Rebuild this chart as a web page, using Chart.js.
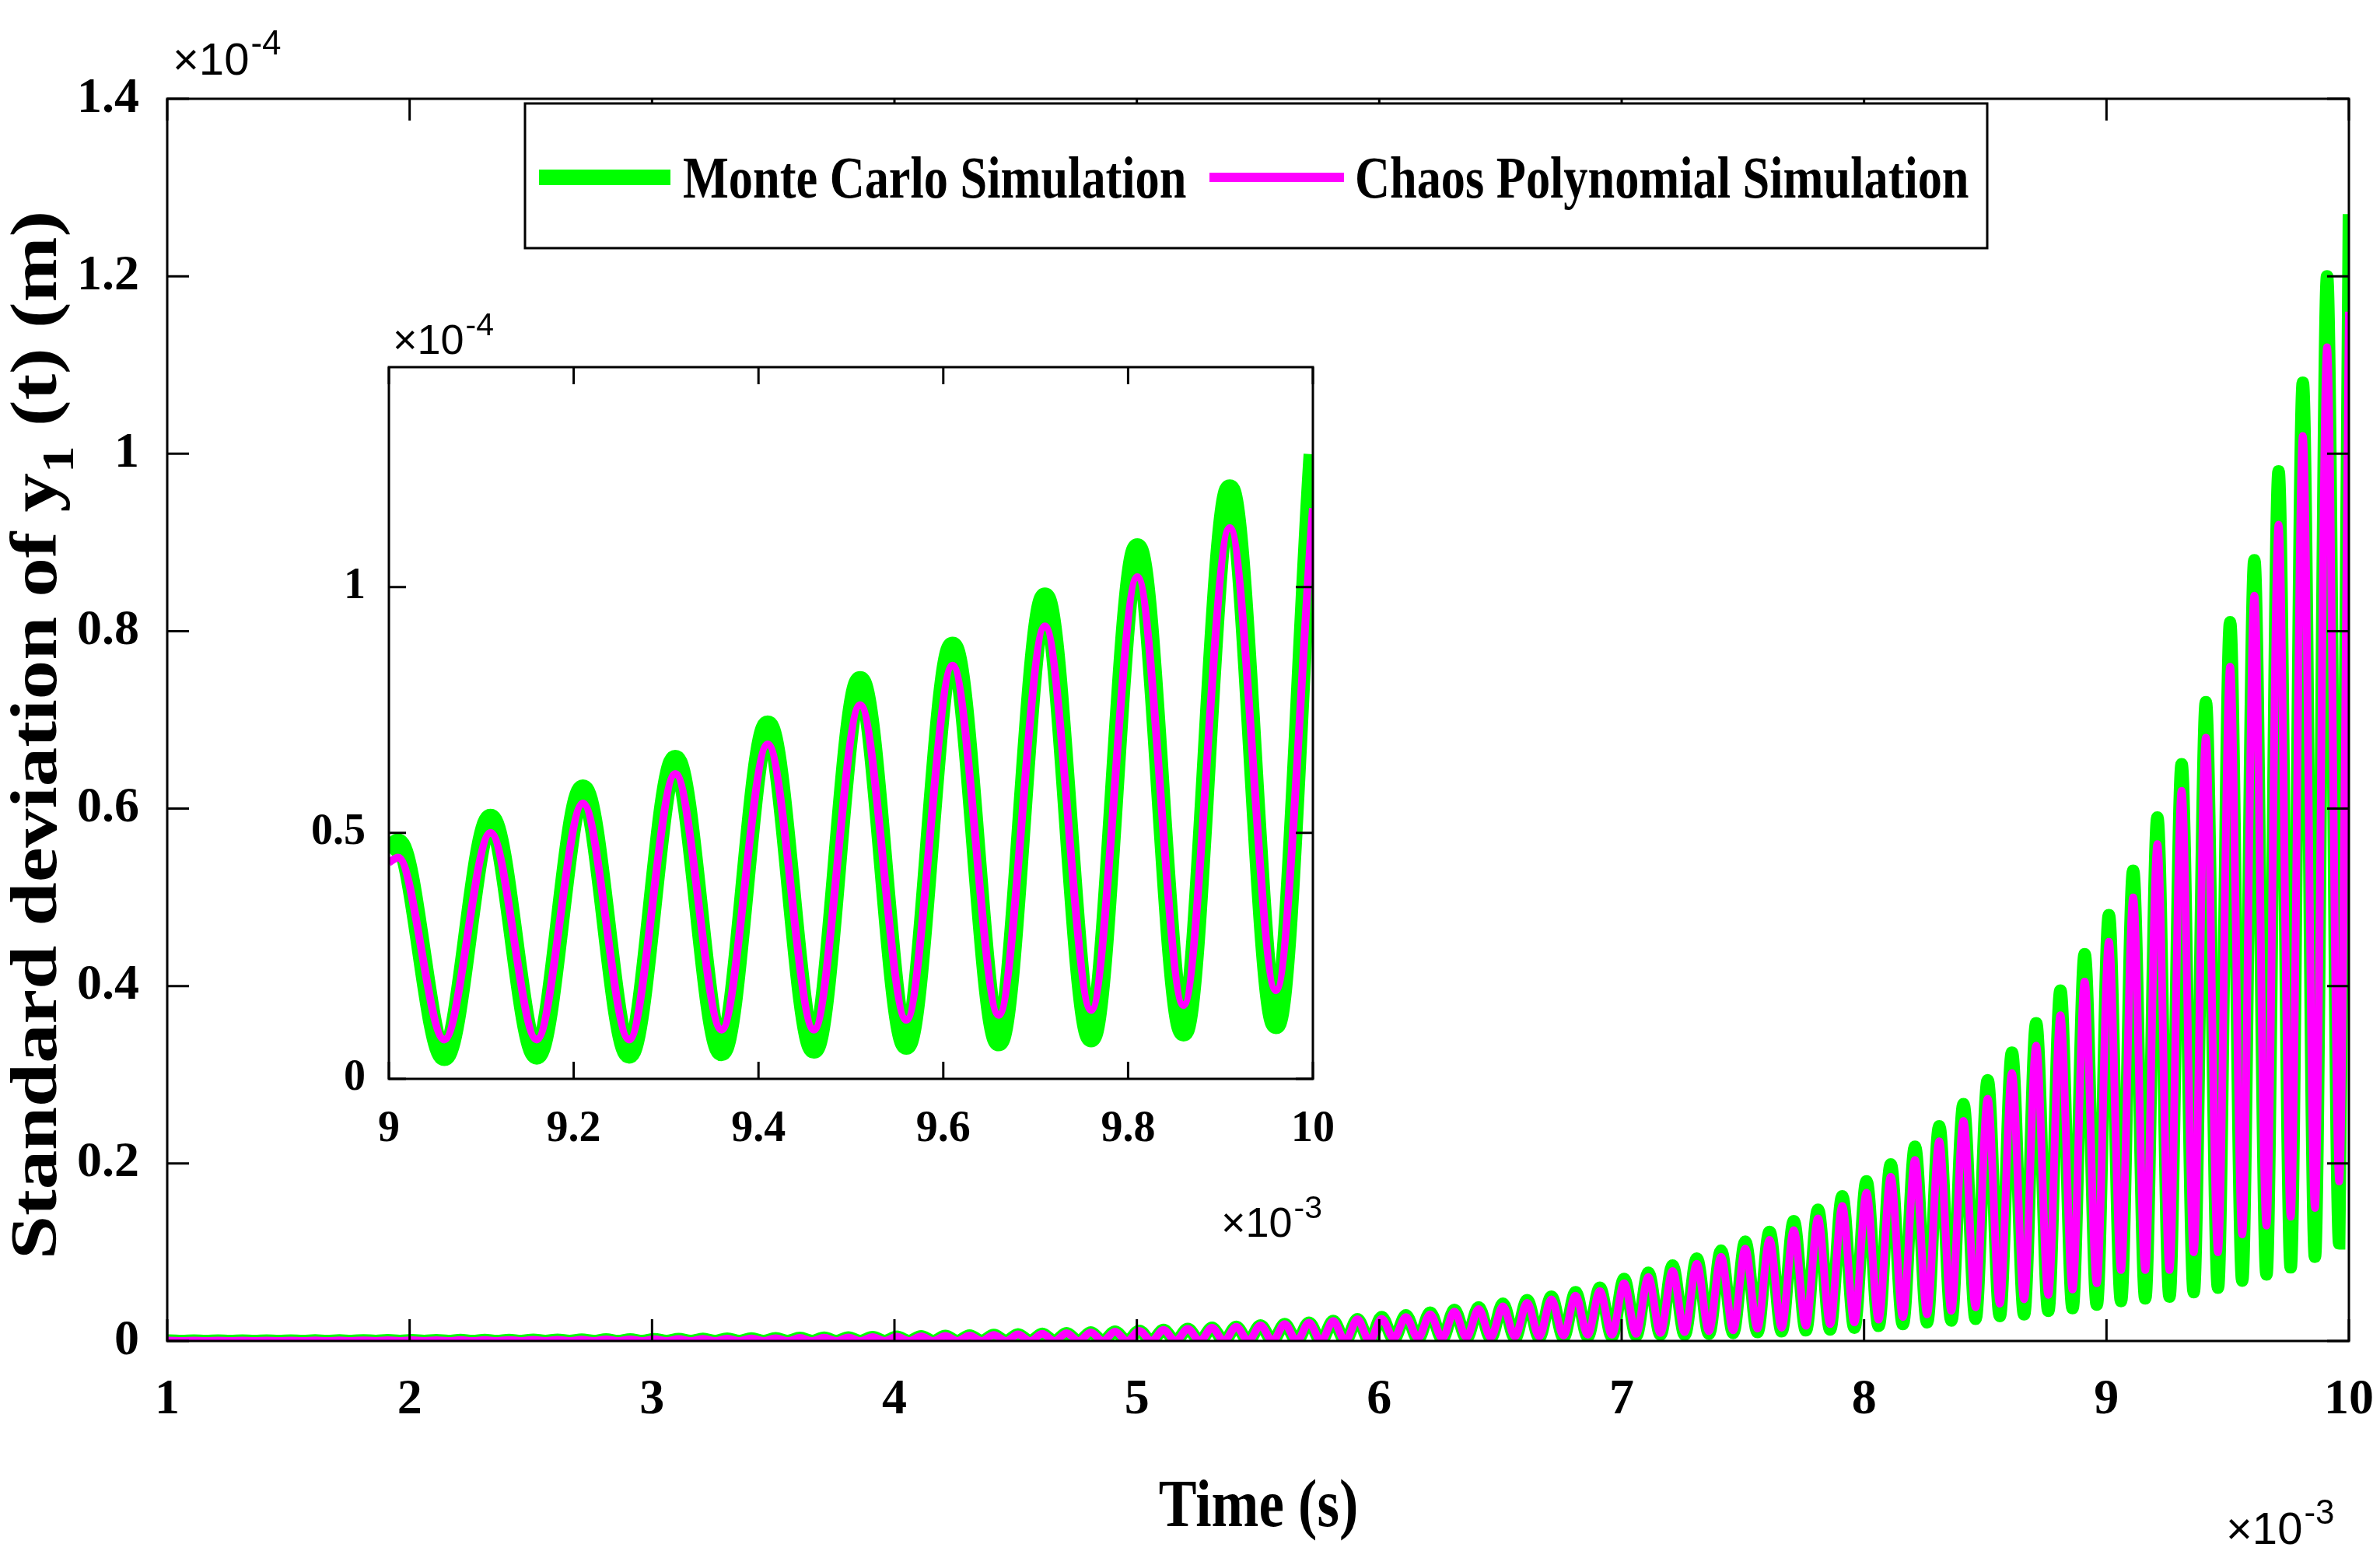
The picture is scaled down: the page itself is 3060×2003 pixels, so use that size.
<!DOCTYPE html>
<html>
<head>
<meta charset="utf-8">
<script src="https://cdn.jsdelivr.net/npm/chart.js@4.4.1/dist/chart.umd.min.js"></script>
<style>
  html, body { margin: 0; padding: 0; background: #fff; }
  #wrap { position: relative; width: 3060px; height: 2003px; }
  #main { position: absolute; left: 0; top: 0; }
  #inset { position: absolute; left: 300px; top: 380px; }
</style>
</head>
<body>
<div id="wrap">
  <canvas id="main" width="3060" height="2003"></canvas>
  <canvas id="inset" width="1500" height="1300"></canvas>
</div>
<script>
// one value per oscillation cycle, cycles start at 1.0 ms and last 0.1 ms (units: 1e-4 m)
const mcPeaks = [
  0.0004,0.0004,0.0004,0.0005,0.0005,0.0005,0.0006,0.0006,0.0007,0.0008,
  0.0008,0.0009,0.0010,0.0011,0.0012,0.0013,0.0014,0.0015,0.0017,0.0018,
  0.0020,0.0022,0.0024,0.0026,0.0028,0.0031,0.0034,0.0037,0.0040,0.0044,
  0.0048,0.0052,0.0057,0.0062,0.0068,0.0074,0.0081,0.0088,0.0096,0.0105,
  0.0115,0.0125,0.0136,0.0148,0.0161,0.0175,0.019,0.0207,0.0225,0.0245,
  0.027,0.029,0.032,0.035,0.038,0.042,0.046,0.050,0.055,0.060,
  0.070,0.077,0.085,0.093,0.102,0.112,0.123,0.135,0.148,0.163,
  0.180,0.199,0.219,0.242,0.267,0.294,0.325,0.358,0.395,0.436,
  0.48,0.53,0.59,0.65,0.72,0.81,0.88,0.98,1.08,1.20
];
const mcTroughs = [
  0,0,0,0,0,0,0,0,0,0,
  0,0,0,0,0,0,0,0,0,0,
  0,0,0,0,0,0,0,0,0,0,
  0,0,0,0,0,0,0,0,0,0,
  0,0,0,0,0,0,0,0,0,0,
  0.002,0.002,0.002,0.003,0.003,0.003,0.004,0.004,0.005,0.005,
  0.006,0.007,0.007,0.008,0.009,0.010,0.011,0.012,0.013,0.015,
  0.017,0.019,0.021,0.023,0.025,0.028,0.030,0.034,0.037,0.041,
  0.045,0.048,0.050,0.055,0.060,0.068,0.075,0.083,0.095,0.110
];
const pcPeaks = [
  0.0004,0.0004,0.0004,0.0005,0.0005,0.0005,0.0006,0.0006,0.0007,0.0008,
  0.0008,0.0009,0.0010,0.0011,0.0012,0.0013,0.0014,0.0015,0.0017,0.0018,
  0.0020,0.0022,0.0024,0.0026,0.0028,0.0031,0.0034,0.0037,0.0040,0.0044,
  0.0048,0.0052,0.0057,0.0062,0.0068,0.0074,0.0081,0.0088,0.0096,0.0105,
  0.0115,0.0125,0.0136,0.0148,0.0161,0.0175,0.019,0.0207,0.0225,0.0245,
  0.025,0.027,0.030,0.033,0.036,0.039,0.043,0.047,0.051,0.056,
  0.065,0.072,0.079,0.087,0.095,0.104,0.114,0.125,0.138,0.152,
  0.167,0.185,0.204,0.225,0.248,0.273,0.302,0.333,0.367,0.405,
  0.45,0.50,0.56,0.62,0.68,0.76,0.84,0.92,1.02,1.12
];
const pcTroughs = [
  0,0,0,0,0,0,0,0,0,0,
  0,0,0,0,0,0,0,0,0,0,
  0,0,0,0,0,0,0,0,0,0,
  0,0,0,0,0,0,0,0,0,0,
  0,0,0,0,0,0,0,0,0,0,
  0.003,0.003,0.003,0.004,0.004,0.005,0.005,0.006,0.007,0.007,
  0.008,0.009,0.010,0.011,0.012,0.014,0.015,0.017,0.019,0.021,
  0.024,0.027,0.030,0.034,0.038,0.042,0.047,0.052,0.058,0.065,
  0.08,0.08,0.08,0.10,0.10,0.12,0.13,0.14,0.15,0.18
];
const mcStart = 0.0003, mcEnd = 1.27, mcInsetStart = 0.46;
const pcStart = 0.0003, pcEnd = 1.16, pcInsetStart = 0.44;

const mainXTicks = [1,2,3,4,5,6,7,8,9,10];
const mainYTicks = [0,0.2,0.4,0.6,0.8,1,1.2,1.4];
const insetXTicks = [9,9.2,9.4,9.6,9.8,10];
const insetYTicks = [0,0.5,1];
const legendLabels = ['Monte Carlo Simulation', 'Chaos Polynomial Simulation'];

const GREEN = '#00ff00', MAGENTA = '#ff00ff';
const SERIF = '"Liberation Serif", "DejaVu Serif", serif';

function buildSeries(peaks, troughs, start, end, from) {
  const pts = [];
  for (let k = from; k < peaks.length; k++) {
    const c = Math.round((1.0 + 0.1 * k) * 100) / 100;
    pts.push({ x: c + 0.01, y: peaks[k] });
    pts.push({ x: c + 0.06, y: troughs[k] });
  }
  pts.unshift({ x: from === 0 ? 1.0 : 9.0, y: start });
  pts.push({ x: 10.0, y: end });
  return pts;
}

function frameTicks(chart, xt, yt, len) {
  const { ctx, chartArea: a, scales } = chart;
  ctx.save();
  ctx.strokeStyle = '#000';
  ctx.lineWidth = 3;
  ctx.strokeRect(a.left, a.top, a.right - a.left, a.bottom - a.top);
  ctx.beginPath();
  xt.forEach(v => {
    const px = scales.x.getPixelForValue(v);
    ctx.moveTo(px, a.bottom); ctx.lineTo(px, a.bottom - len);
    ctx.moveTo(px, a.top); ctx.lineTo(px, a.top + len);
  });
  yt.forEach(v => {
    const py = scales.y.getPixelForValue(v);
    ctx.moveTo(a.left, py); ctx.lineTo(a.left + len, py);
    ctx.moveTo(a.right, py); ctx.lineTo(a.right - len, py);
  });
  ctx.stroke();
  ctx.restore();
}

function expLabel(ctx, x, y, base, exp, size) {
  ctx.font = size + 'px "Liberation Sans", Arial, sans-serif';
  ctx.textBaseline = 'alphabetic';
  ctx.textAlign = 'left';
  ctx.fillStyle = '#000';
  ctx.fillText(base, x, y);
  const w = ctx.measureText(base).width;
  ctx.font = Math.round(size * 0.75) + 'px "Liberation Sans", Arial, sans-serif';
  ctx.fillText(exp, x + w + 2, y - size * 0.45);
}

// condensed text like the reference's narrow bold serif
function narrowText(ctx, text, x, y, sx, align) {
  ctx.save();
  const w = ctx.measureText(text).width * sx;
  let x0 = x;
  if (align === 'center') x0 = x - w / 2;
  ctx.translate(x0, y);
  ctx.scale(sx, 1);
  ctx.textAlign = 'left';
  ctx.fillText(text, 0, 0);
  ctx.restore();
  return w;
}

const tickFont = (s) => ({ family: SERIF, size: s, weight: 'bold' });
const plain = v => String(Math.round(v * 10) / 10);
const noSidePad = s => { s.paddingLeft = 0; s.paddingRight = 0; };

const mainDecor = {
  id: 'mainDecor',
  afterDraw(chart) {
    const { ctx } = chart;
    frameTicks(chart, mainXTicks, mainYTicks, 28);
    expLabel(ctx, 222, 96, '\u00d710', '-4', 58);
    expLabel(ctx, 2862, 1985, '\u00d710', '-3', 58);
    ctx.save();
    ctx.fillStyle = '#000';
    ctx.font = 'bold 86px ' + SERIF;
    narrowText(ctx, 'Time (s)', 1618, 1962, 0.85, 'center');
    // y title with subscript
    ctx.translate(72, 945);
    ctx.rotate(-Math.PI / 2);
    ctx.font = 'bold 84px ' + SERIF;
    const p1 = 'Standard deviation of y', p3 = ' (t) (m)';
    const sx = 1.2;
    const w1 = ctx.measureText(p1).width * sx, w3 = ctx.measureText(p3).width * sx;
    ctx.font = 'bold 58px ' + SERIF;
    const w2 = ctx.measureText('1').width * sx;
    let x = -(w1 + w2 + w3) / 2;
    ctx.font = 'bold 84px ' + SERIF;
    x += narrowText(ctx, p1, x, 0, sx);
    ctx.font = 'bold 58px ' + SERIF;
    x += narrowText(ctx, '1', x, 22, sx);
    ctx.font = 'bold 84px ' + SERIF;
    narrowText(ctx, p3, x, 0, sx);
    ctx.restore();
    // legend
    ctx.save();
    ctx.fillStyle = '#fff';
    ctx.fillRect(675, 133, 1880, 186);
    ctx.strokeStyle = '#000';
    ctx.lineWidth = 3;
    ctx.strokeRect(675, 133, 1880, 186);
    ctx.lineCap = 'butt';
    ctx.strokeStyle = GREEN; ctx.lineWidth = 20;
    ctx.beginPath(); ctx.moveTo(693, 228); ctx.lineTo(862, 228); ctx.stroke();
    ctx.strokeStyle = MAGENTA; ctx.lineWidth = 12;
    ctx.beginPath(); ctx.moveTo(1555, 228); ctx.lineTo(1728, 228); ctx.stroke();
    ctx.fillStyle = '#000';
    ctx.font = 'bold 76px ' + SERIF;
    ctx.textBaseline = 'middle';
    narrowText(ctx, legendLabels[0], 878, 234, 0.82);
    narrowText(ctx, legendLabels[1], 1742, 234, 0.82);
    ctx.restore();
  }
};

new Chart(document.getElementById('main'), {
  type: 'line',
  data: {
    datasets: [
      { label: legendLabels[0], data: buildSeries(mcPeaks, mcTroughs, mcStart, mcEnd, 0), order: 2,
        borderColor: GREEN, borderWidth: 16, pointRadius: 0, cubicInterpolationMode: 'monotone' },
      { label: legendLabels[1], data: buildSeries(pcPeaks, pcTroughs, pcStart, pcEnd, 0), order: 1,
        borderColor: MAGENTA, borderWidth: 10, pointRadius: 0, cubicInterpolationMode: 'monotone' }
    ]
  },
  options: {
    responsive: false, animation: false, devicePixelRatio: 1,
    layout: { padding: { top: 127, right: 40, left: 0, bottom: 0 } },
    plugins: { legend: { display: false }, tooltip: { enabled: false } },
    scales: {
      x: { type: 'linear', min: 1, max: 10,
        afterBuildTicks: s => { s.ticks = mainXTicks.map(v => ({ value: v })); },
        afterFit: s => { s.height = 279; noSidePad(s); },
        grid: { display: false }, border: { display: false },
        ticks: { color: '#000', font: tickFont(64), padding: 30, maxRotation: 0, callback: plain } },
      y: { min: 0, max: 1.4,
        afterBuildTicks: s => { s.ticks = mainYTicks.map(v => ({ value: v })); },
        afterFit: s => { s.width = 215; },
        grid: { display: false }, border: { display: false },
        ticks: { color: '#000', font: tickFont(64), padding: 28, callback: plain } }
    }
  },
  plugins: [mainDecor]
});

const insetDecor = {
  id: 'insetDecor',
  beforeDraw(chart) {
    const { ctx, chartArea: a } = chart;
    ctx.save();
    ctx.fillStyle = '#fff';
    ctx.fillRect(a.left, a.top, a.right - a.left, a.bottom - a.top);
    ctx.restore();
  },
  afterDraw(chart) {
    const { ctx } = chart;
    frameTicks(chart, insetXTicks, insetYTicks, 22);
    expLabel(ctx, 205, 75, '\u00d710', '-4', 54);
    expLabel(ctx, 1270, 1210, '\u00d710', '-3', 54);
  }
};

new Chart(document.getElementById('inset'), {
  type: 'line',
  data: {
    datasets: [
      { data: buildSeries(mcPeaks, mcTroughs, mcInsetStart, mcEnd, 80), order: 2,
        borderColor: GREEN, borderWidth: 24, pointRadius: 0, cubicInterpolationMode: 'monotone' },
      { data: buildSeries(pcPeaks, pcTroughs, pcInsetStart, pcEnd, 80), order: 1,
        borderColor: MAGENTA, borderWidth: 10, pointRadius: 0, cubicInterpolationMode: 'monotone' }
    ]
  },
  options: {
    responsive: false, animation: false, devicePixelRatio: 1,
    layout: { padding: { top: 92, right: 112, left: 0, bottom: 0 } },
    plugins: { legend: { display: false }, tooltip: { enabled: false } },
    scales: {
      x: { type: 'linear', min: 9, max: 10,
        afterBuildTicks: s => { s.ticks = insetXTicks.map(v => ({ value: v })); },
        afterFit: s => { s.height = 293; noSidePad(s); },
        grid: { display: false }, border: { display: false },
        ticks: { color: '#000', font: tickFont(56), padding: 24, maxRotation: 0, callback: plain } },
      y: { min: 0, max: 1.447,
        afterBuildTicks: s => { s.ticks = insetYTicks.map(v => ({ value: v })); },
        afterFit: s => { s.width = 200; },
        grid: { display: false }, border: { display: false },
        ticks: { color: '#000', font: tickFont(56), padding: 22, callback: plain } }
    }
  },
  plugins: [insetDecor]
});
</script>
</body>
</html>
